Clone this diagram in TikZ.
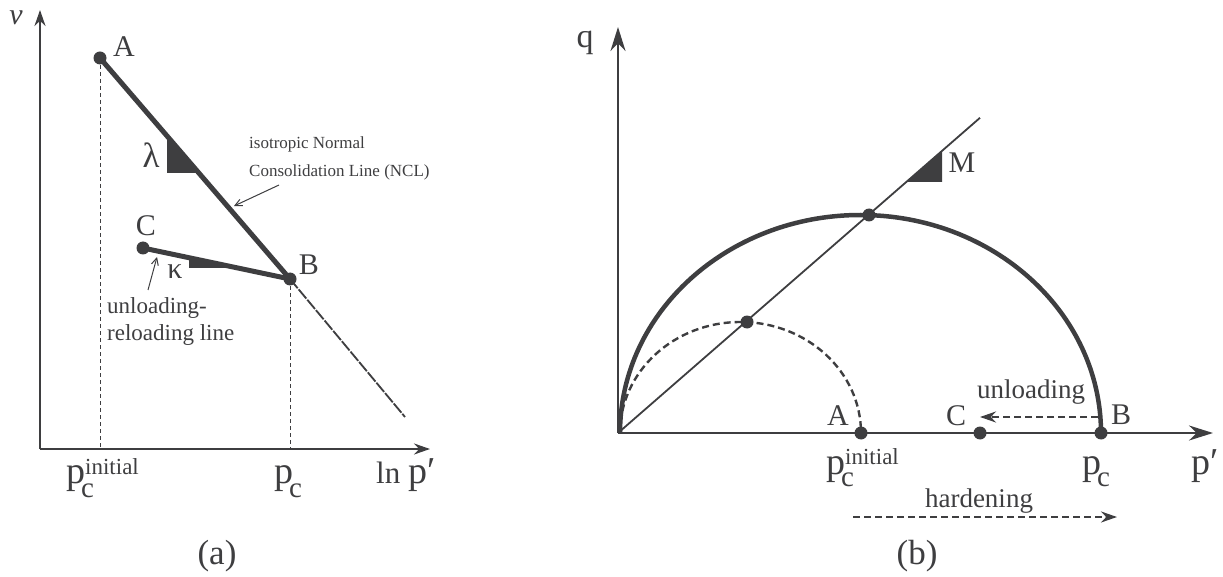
\documentclass[tikz,border=0pt]{standalone}
\usepackage{fontspec}
\setmainfont{Liberation Serif}
\usetikzlibrary{arrows.meta}
\definecolor{ink}{RGB}{62,62,64}
\newcommand\fs[1]{\fontsize{#1}{#1}\selectfont}
\newcommand\pcl[1]{\fs{38}p\rlap{\kern-4pt\raisebox{-14pt}{\fs{29}c}}\raisebox{9pt}{\fs{23}#1}}
\newcommand\pcr[1]{\fs{38}p\rlap{\kern-4pt\raisebox{-12pt}{\fs{29}c}}\raisebox{10pt}{\fs{23}#1}}
\begin{document}
\begin{tikzpicture}[x=1pt,y=-1pt,
  axisL/.style={ink, line width=2.4pt, -{Stealth[length=16pt,width=11pt]}},
  axisR/.style={ink, line width=2.4pt, -{Stealth[length=24pt,width=15pt]}},
  dot/.style={circle, fill=ink, inner sep=0pt, minimum size=13pt},
  lbl/.style={text=ink, font=\fs{30}, inner sep=0pt, anchor=base},
  axlbl/.style={text=ink, inner sep=0pt, anchor=base west},
  guide/.style={ink, line width=1pt, dash pattern=on 4pt off 3pt},
  heavy/.style={ink, line width=5pt},
  note/.style={text=ink, font=\fs{23}, inner sep=0pt, align=left, anchor=base west},
  pointer/.style={ink, line width=1pt, -{Straight Barb[length=7pt,width=7pt]}},
  dasharrow/.style={ink, line width=2.4pt, dash pattern=on 7pt off 4pt, -{Stealth[length=16pt,width=11pt]}},
  slope/.style={fill=ink}]
\useasboundingbox (0,0) rectangle (1223,577);

% ---------------- panel (a) ----------------
\coordinate (oL) at (40,449);
\coordinate (vTop) at (40,10);
\coordinate (lnEnd) at (430,449);
\draw[axisL] (oL) -- (vTop);
\draw[axisL] (oL) -- (lnEnd);
\node[lbl, font=\fs{30}\itshape] (vlab) at (16,25) {v};

\node[dot] (A1) at (100,58) {};
\node[dot] (B1) at (290,279) {};
\node[dot] (C1) at (143,248) {};
\coordinate (A1foot) at (100,449);
\coordinate (B1foot) at (290,449);
\coordinate (ext) at (405,417);

\draw[guide] (A1.center) -- (A1foot);
\draw[guide] (B1.center) -- (B1foot);
\draw[ink, line width=1.8pt, dash pattern=on 12pt off 1.5pt] (B1.center) -- (ext);

\fill[slope] (167,136) -- (167,173) -- (199,173) -- cycle;
\fill[slope] (189,257.7) -- (189,268) -- (238,268) -- cycle;
\draw[heavy] (A1.center) -- (B1.center);
\draw[heavy] (C1.center) -- (B1.center);

\node[lbl] (Alab1) at (124,57) {A};
\node[lbl] (Blab1) at (309,275) {B};
\node[lbl] (Clab1) at (146,236) {C};
\node[lbl, font=\fs{35}] (lam) at (151,168) {λ};
\node[lbl] (kap) at (175,279) {κ};

\node[note, font=\fs{17}] (ncl) at (249,177) {isotropic Normal\\[11pt]Consolidation Line (NCL)};
\coordinate (nclFrom) at (279,185);
\coordinate (nclTo) at (234,206);
\draw[pointer] (nclFrom) -- (nclTo);

\node[note] (url) at (107,340) {unloading-\\[4pt]reloading line};
\coordinate (urlFrom) at (148,290);
\coordinate (urlTo) at (157,257);
\draw[pointer] (urlFrom) -- (urlTo);

\node[axlbl] (pci1) at (66,483) {\pcl{initial}};
\node[axlbl] (pc1) at (274,483) {\pcl{}};
\node[axlbl] (lnp) at (376,483) {\fs{31}ln \fs{38}p′};
\node[lbl, font=\fs{35}] (capa) at (217,564) {(a)};

% ---------------- panel (b) ----------------
\coordinate (oR) at (618,433);
\coordinate (qTop) at (618,27);
\coordinate (pEnd) at (1213,433);
\draw[axisR] (oR) -- (qTop);
\draw[axisR] (oR) -- (pEnd);
\node[lbl, font=\fs{34}] (qlab) at (585,48) {q};

\coordinate (Mend) at (980,117.8);
\draw[ink, line width=1.8pt] (oR) -- (Mend);
\fill[slope] (906.7,182) -- (942,182) -- (942,151) -- cycle;
\node[lbl] (Mlab) at (962,173) {M};

\draw[ink, line width=4.5pt] (620,433) arc[start angle=180, end angle=0, x radius=240.5pt, y radius=218pt];
\draw[ink, line width=2.4pt, dash pattern=on 7pt off 4pt] (620,433) arc[start angle=180, end angle=0, x radius=120.5pt, y radius=111pt];

\node[dot] (Ptop) at (869,215) {};
\node[dot] (Psmall) at (747,322) {};
\node[dot] (A2) at (861,433) {};
\node[dot] (C2) at (980,433) {};
\node[dot] (B2) at (1101,433) {};

\node[lbl] (Alab2) at (838,425) {A};
\node[lbl] (Clab2) at (956,425) {C};
\node[lbl] (Blab2) at (1121,424) {B};

\coordinate (unFrom) at (1098,417);
\coordinate (unTo) at (980,417);
\draw[dasharrow] (unFrom) -- (unTo);
\node[lbl, font=\fs{27}] (unl) at (1031,398) {unloading};

\coordinate (hdFrom) at (853,517);
\coordinate (hdTo) at (1117,517);
\draw[dasharrow] (hdFrom) -- (hdTo);
\node[lbl, font=\fs{27}] (hard) at (979,507) {hardening};

\node[axlbl] (pci2) at (826,474) {\pcr{initial}};
\node[axlbl] (pc2) at (1082,474) {\pcr{}};
\node[axlbl] (pp) at (1191,474) {\fs{38}p′};
\node[lbl, font=\fs{35}] (capb) at (917,564) {(b)};
\end{tikzpicture}
\end{document}
